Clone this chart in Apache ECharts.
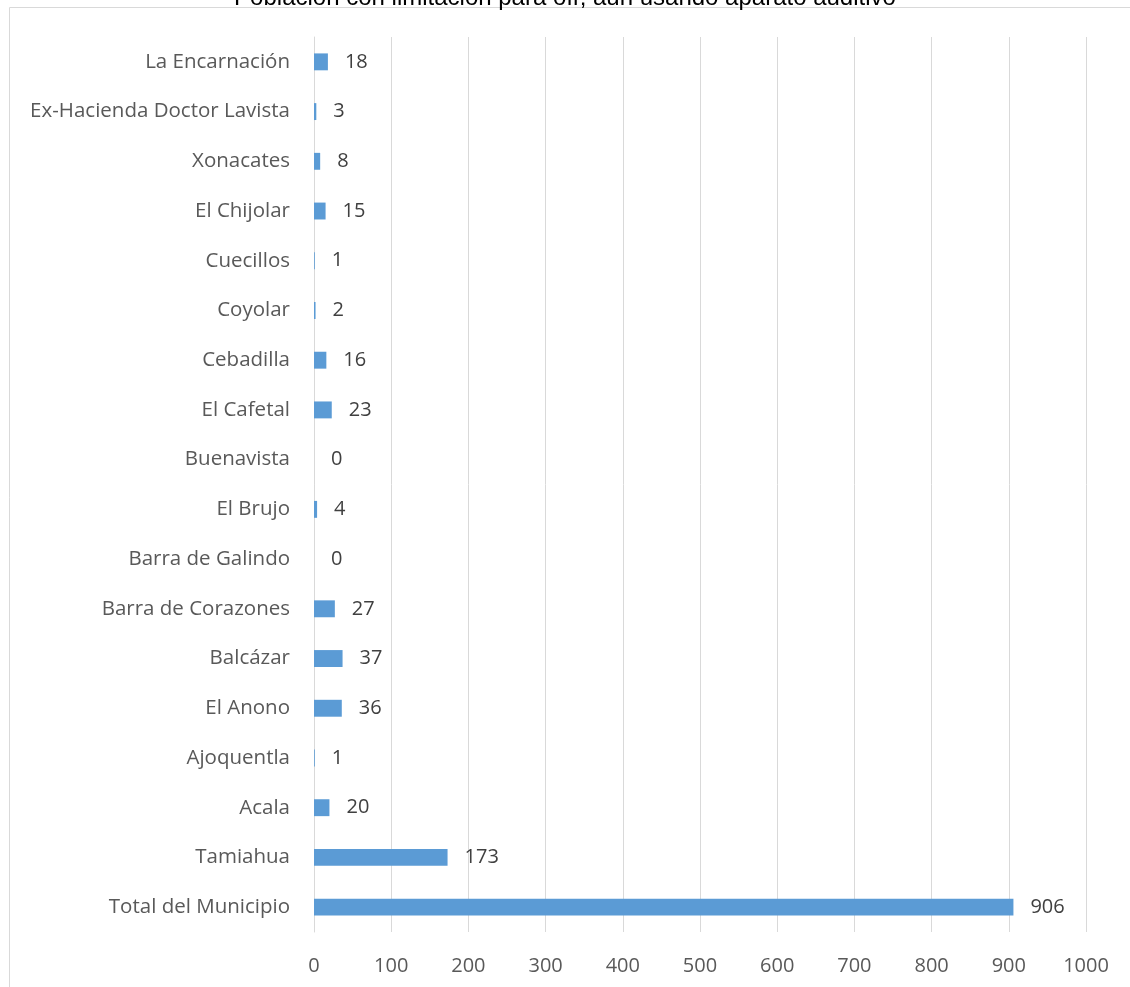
<!DOCTYPE html>
<html>
<head>
<meta charset="utf-8">
<script src="https://cdn.jsdelivr.net/npm/echarts@6/dist/echarts.min.js"></script>
<style>
html,body{margin:0;padding:0;background:#fff;}
#chart{width:1130px;height:987px;}
</style>
</head>
<body>
<div id="chart"></div>
<script>
//categorias (de abajo hacia arriba)
var localidades = ['Total del Municipio','Tamiahua','Acala','Ajoquentla','El Anono','Balcázar','Barra de Corazones','Barra de Galindo','El Brujo','Buenavista','El Cafetal','Cebadilla','Coyolar','Cuecillos','El Chijolar','Xonacates','Ex-Hacienda Doctor Lavista','La Encarnación'];
var poblacion = [906,173,20,1,36,37,27,0,4,0,23,16,2,1,15,8,3,18];
var ejeValores = [0,100,200,300,400,500,600,700,800,900,1000];
var titulo = 'Población con limitación para oír, aun usando aparato auditivo';

var chart = echarts.init(document.getElementById('chart'));
var fuente = 'Open Sans';
var option = {
    animation:false,
    title:{
        text:titulo,
        left:'center',
        top:-19,
        textStyle:{color:'#000',fontSize:24,fontWeight:'normal',fontFamily:'Liberation Sans'}
    },
    graphic:[{
        type:'rect',
        shape:{x:9.5,y:7.5,width:1200,height:1100},
        style:{fill:'none',stroke:'#d9d9d9',lineWidth:1}
    }],
    grid:{
        left:314,
        right:44,
        top:37,
        bottom:55
    },
    xAxis:{
        type:'value',
        min:ejeValores[0],
        max:ejeValores[ejeValores.length-1],
        interval:100,
        axisLine:{show:false},
        axisTick:{show:false},
        axisLabel:{color:'#595959',fontSize:20,fontFamily:fuente,margin:24,formatter:function(v){return String(v);}},
        splitLine:{lineStyle:{color:'#d9d9d9',width:1}}
    },
    yAxis:{
        type:'category',
        data:localidades,
        axisLine:{lineStyle:{color:'#d9d9d9'}},
        axisTick:{show:false},
        axisLabel:{color:'#595959',fontSize:20.5,fontFamily:fuente,margin:24}
    },
    series:[{
        type:'bar',
        data:poblacion,
        barCategoryGap:'66%',
        itemStyle:{color:'#5b9bd5'},
        label:{
            show:true,
            position:'right',
            distance:17,
            color:'#404040',
            fontSize:20,
            fontFamily:fuente
        }
    }]
};
chart.setOption(option);
</script>
</body>
</html>
